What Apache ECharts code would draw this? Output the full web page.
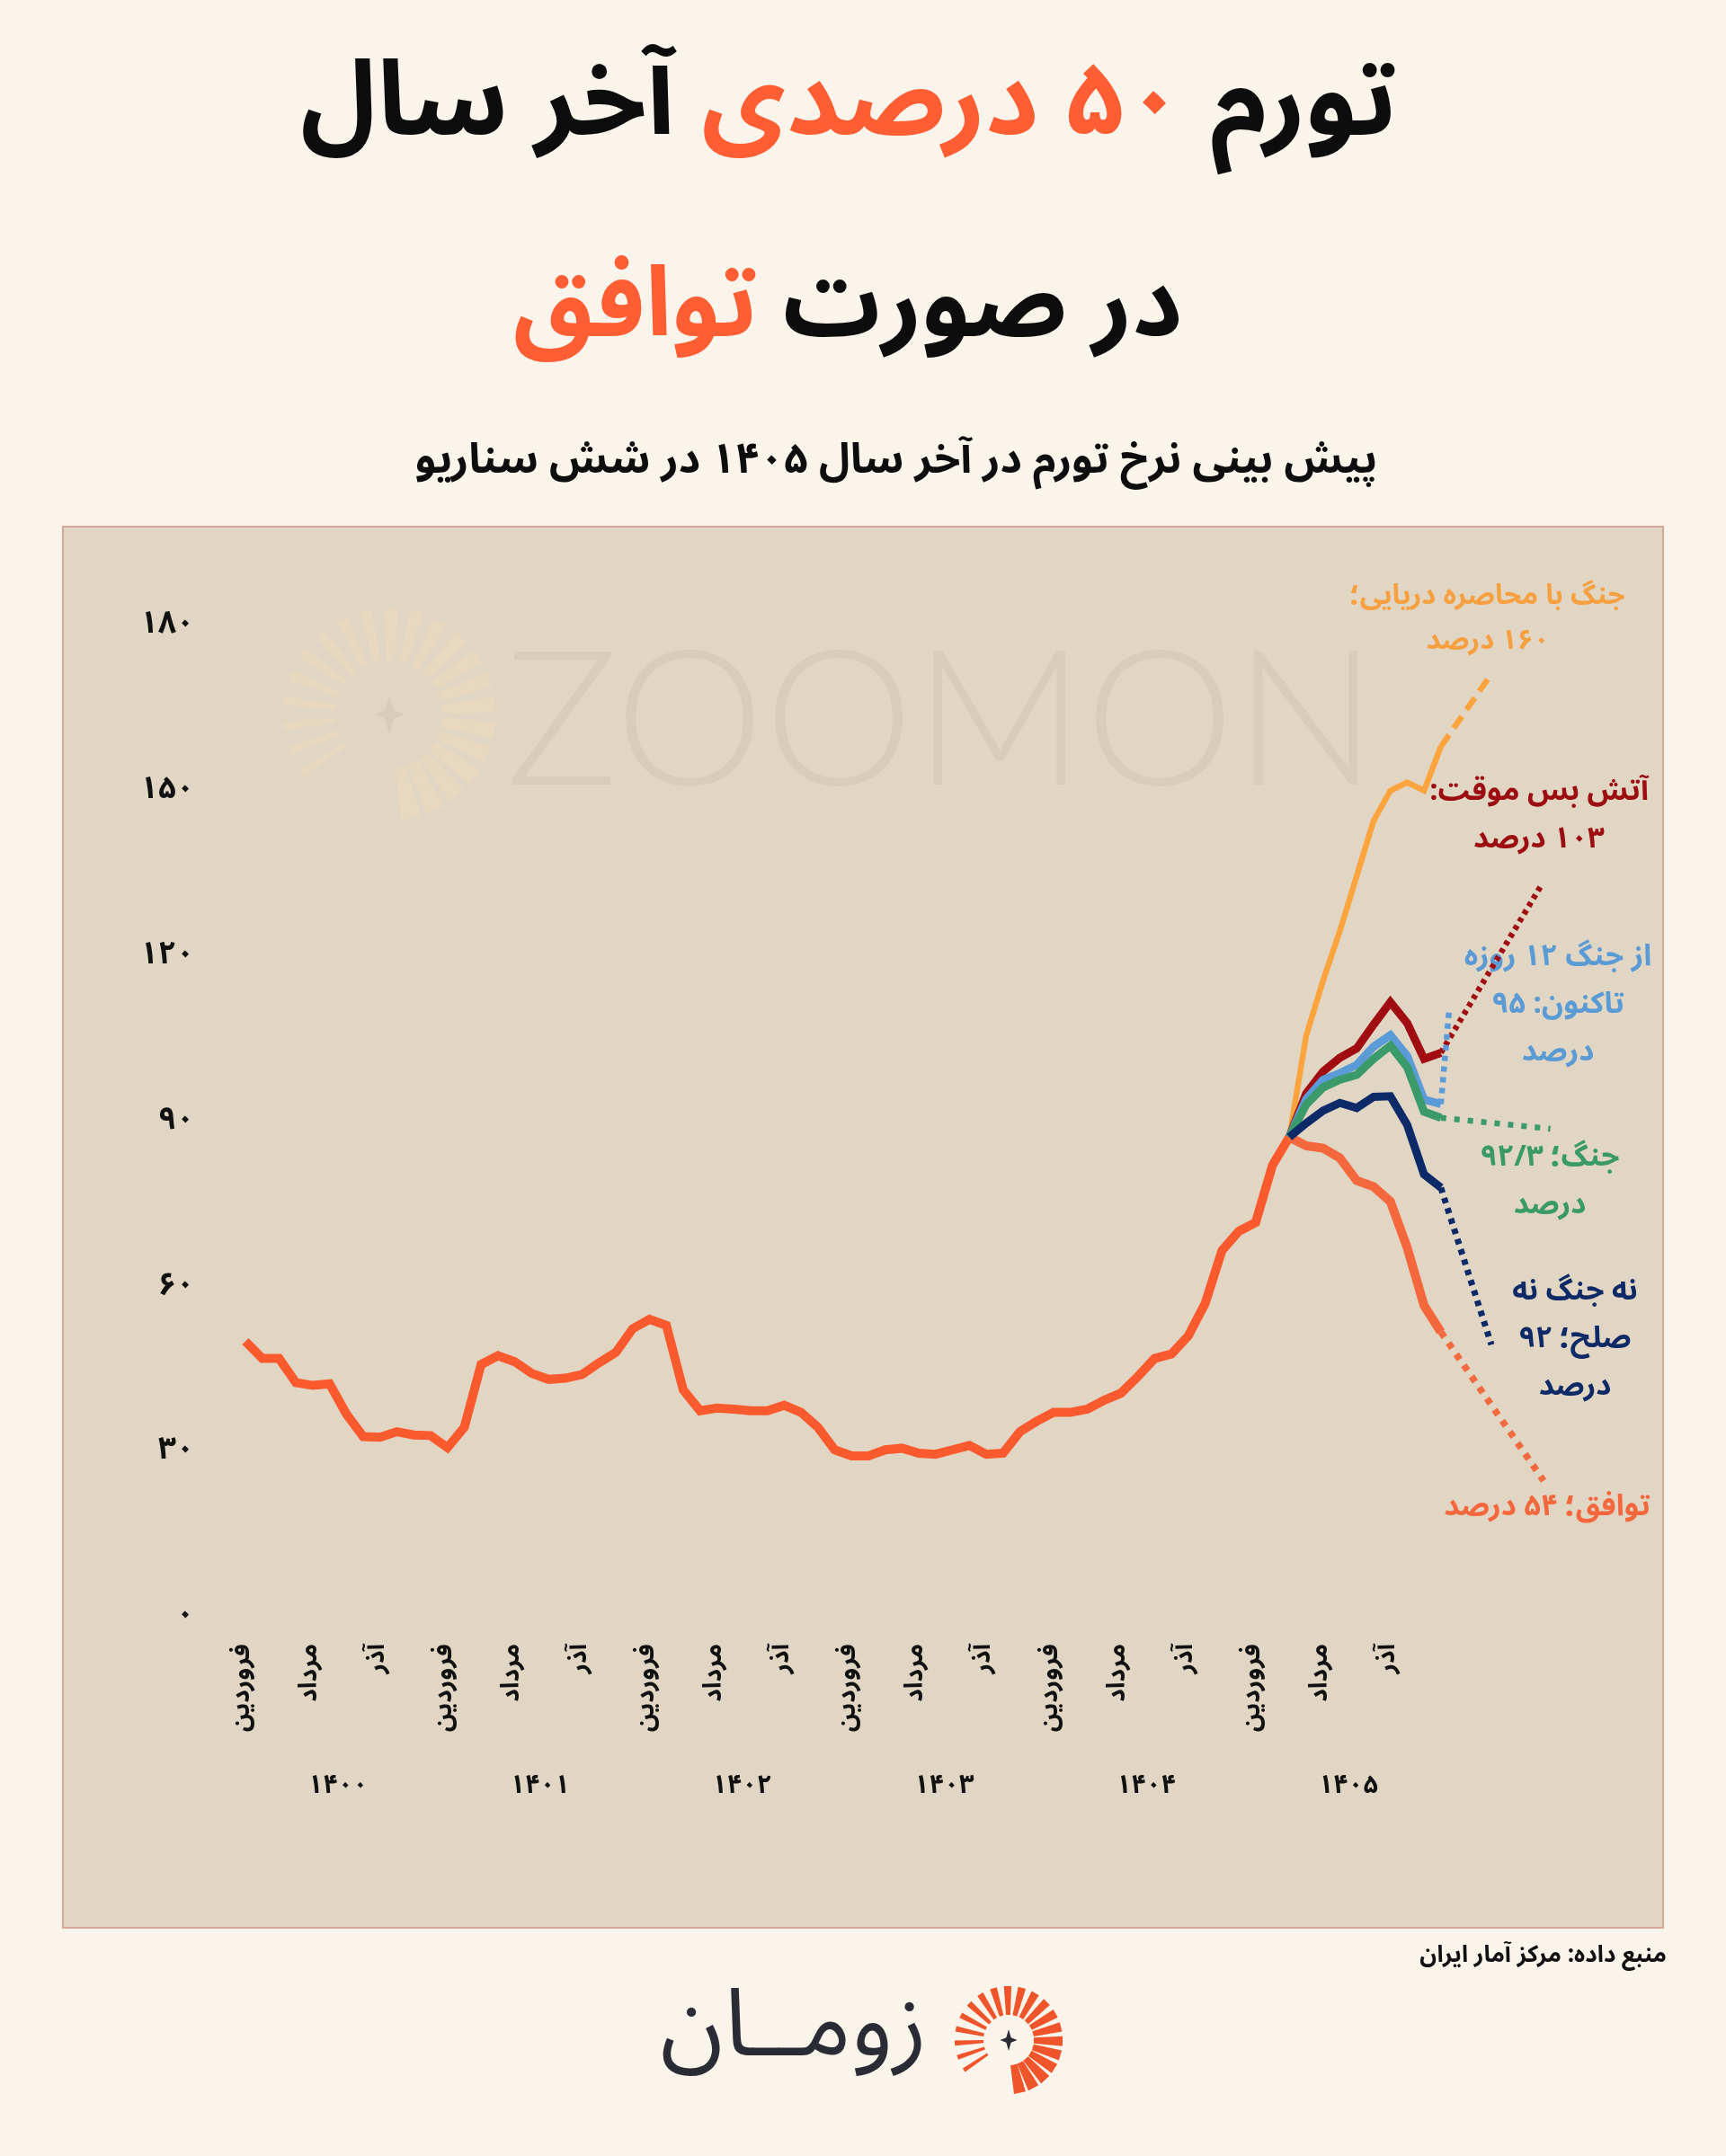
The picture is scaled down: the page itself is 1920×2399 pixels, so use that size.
<!DOCTYPE html>
<html><head><meta charset="utf-8">
<script src="https://cdn.jsdelivr.net/npm/echarts@6/dist/echarts.min.js"></script>
<style>html,body{margin:0;padding:0;background:#fbf4ea;}#c{width:1920px;height:2399px;}</style>
</head><body><div id="c"></div>
<script>
// ---------- data ----------
const monthNames = ['فروردین', 'مرداد', 'آذر'];
const monthTickValues = [0,4,8,12,16,20,24,28,32,36,40,44,48,52,56,60,64,68];
const yearLabels = ['۱۴۰۰', '۱۴۰۱', '۱۴۰۲', '۱۴۰۳', '۱۴۰۴', '۱۴۰۵'];
const yearTickValues = [5.5, 17.5, 29.5, 41.5, 53.5, 65.5];
const yTickLabels = ['۰', '۳۰', '۶۰', '۹۰', '۱۲۰', '۱۵۰', '۱۸۰'];

// monthly inflation, Farvardin 1400 (index 0) .. Khordad 1405 (index 62)
const actual = [50.5, 47.4, 47.4, 43.0, 42.5, 42.8, 37.3, 33.2, 33.1, 34.1, 33.5, 33.4,
  31.2, 34.9, 46.3, 47.9, 46.8, 44.7, 43.6, 43.8, 44.5, 46.6, 48.5, 52.8,
  54.5, 53.4, 41.7, 37.9, 38.4, 38.2, 37.9, 37.9, 38.9, 37.6, 34.9, 30.8,
  29.7, 29.7, 30.8, 31.1, 30.2, 30.0, 30.8, 31.6, 30.0, 30.2, 34.1, 36.0,
  37.6, 37.6, 38.2, 39.8, 41.1, 44.1, 47.4, 48.2, 51.5, 57.4, 67.0, 70.5,
  72.1, 82.5, 87.6];
const scenarioStart = 62;
// scenarios, index 62 .. 71
const agreement   = [87.6, 86.0, 85.6, 83.8, 79.7, 78.6, 75.9, 67.5, 57.0, 52.2];
const noWarNoPeace= [87.6, 90.1, 92.4, 93.8, 92.9, 94.9, 95.0, 89.8, 80.8, 78.4];
const war         = [87.6, 93.5, 96.6, 98.0, 98.9, 101.8, 104.2, 100.3, 92.2, 91.1];
const since12Day  = [87.6, 94.5, 98.0, 99.2, 100.7, 104.0, 106.1, 102.3, 94.4, 93.6];
const ceasefire   = [87.6, 95.5, 99.5, 102.0, 103.7, 108.0, 112.1, 108.3, 101.8, 102.9];
const navalSiege  = [87.6, 106, 116, 125, 135, 145, 150.5, 152, 150.5, 158.5];
// projected end points [monthIndex, value]
const agreementEnd    = [77.1, 25.2];
const noWarNoPeaceEnd = [74.0, 49.9];
const warEnd          = [77.5, 89.1];
const since12DayEnd   = [71.5, 111.0];
const ceasefireEnd    = [77.0, 133.5];
const navalSiegeEnd   = [74.0, 171.7];

// ---------- helpers ----------
const RLM = '\u200F';
const fa = s => s.split('\n').map(l => RLM + l + RLM).join('\n');
const FA = "'Noto Sans Arabic','Vazirmatn','DejaVu Sans',sans-serif";
const toPairs = (arr, start) => arr.map((v, i) => [start + i, v]);
const lastPair = (arr, start) => [start + arr.length - 1, arr[arr.length - 1]];

function solid(name, data, color, width, z) {
  return { name, type: 'line', data, symbol: 'none', z, animation: false,
    lineStyle: { color, width, cap: 'butt', join: 'miter' } };
}
function ext(name, arr, end, color, width, dash, z) {
  return { name, type: 'line', data: [lastPair(arr, scenarioStart), end], symbol: 'none', z, animation: false,
    lineStyle: { color, width, type: dash, cap: 'butt' } };
}

function sun(cx, cy, r1, r2, n, a0, a1, w0, w1, color, star, starSize, z) {
  const els = [];
  for (let i = 0; i < n; i++) {
    const t = i / (n - 1);
    const a = (a0 + (a1 - a0) * t) * Math.PI / 180;
    const w = w0 + (w1 - w0) * t;
    const ux = Math.cos(a), uy = -Math.sin(a);
    const px = -uy, py = ux;
    const hi = w * 0.35, ho = w * 0.6;
    els.push({ type: 'polygon', z, silent: true, shape: { points: [
      [cx + ux * r1 + px * hi, cy + uy * r1 + py * hi],
      [cx + ux * r2 + px * ho, cy + uy * r2 + py * ho],
      [cx + ux * r2 - px * ho, cy + uy * r2 - py * ho],
      [cx + ux * r1 - px * hi, cy + uy * r1 - py * hi]] }, style: { fill: color } });
  }
  const s = starSize, k = s * 0.22;
  els.push({ type: 'polygon', z, silent: true, shape: { points: [
    [cx, cy - s], [cx + k, cy - k], [cx + s * 0.8, cy], [cx + k, cy + k],
    [cx, cy + s], [cx - k, cy + k], [cx - s * 0.8, cy], [cx - k, cy - k]] }, style: { fill: star } });
  return els;
}

function txt(text, x, y, size, color, align, extra) {
  return Object.assign({ type: 'text', silent: true, z: 5, style: {
    text, x, y, font: 'bold ' + size + 'px ' + FA, fill: color,
    align: align || 'center', textAlign: align || 'center', verticalAlign: 'middle', textVerticalAlign: 'middle',
    lineHeight: Math.round(size * 1.6) } }, extra || {});
}

const chart = echarts.init(document.getElementById('c'), null, { renderer: 'canvas' });

const graphics = [
  { type: 'rect', z: -10, silent: true, shape: { x: 70, y: 586, width: 1780, height: 1559 },
    style: { fill: '#e1d6c4', stroke: '#d6a698', lineWidth: 2 } },
  { type: 'text', z: -5, silent: true, style: { text: 'ZOOMON', x: 1047, y: 805,
    font: '300 210px Lato, "Open Sans", sans-serif', fill: '#d8cdbb', align: 'center', textAlign: 'center',
    verticalAlign: 'middle', textVerticalAlign: 'middle' } },
  ...sun(433, 795, 60, 118, 22, -78, 214, 18, 7, '#e8d8bf', '#d9cdba', 22, -5),
  // titles
  { type: 'text', silent: true, z: 5, style: {
    text: '{k|' + fa('آخر سال') + '}{k| }{o|' + fa('۵۰ درصدی') + '}{k| }{k|' + fa('تورم') + '}',
    x: 944, y: 132, align: 'center', textAlign: 'center', verticalAlign: 'middle', textVerticalAlign: 'middle',
    rich: { k: { fill: '#0d0d0d', font: 'bold 115px ' + FA }, o: { fill: '#ff5d34', font: 'bold 115px ' + FA } } } },
  { type: 'text', silent: true, z: 5, style: {
    text: '{o|' + fa('توافق') + '}{k| }{k|' + fa('در صورت') + '}',
    x: 943, y: 357, align: 'center', textAlign: 'center', verticalAlign: 'middle', textVerticalAlign: 'middle',
    rich: { k: { fill: '#0d0d0d', font: 'bold 108px ' + FA }, o: { fill: '#ff5d34', font: 'bold 108px ' + FA } } } },
  txt(fa('پیش بینی نرخ تورم در آخر سال ۱۴۰۵ در شش سناریو'), 997, 519, 47, '#0d0d0d'),
  // scenario labels
  txt(fa('جنگ با محاصره دریایی؛\n۱۶۰ درصد'), 1655, 692, 31, '#f6a042'),
  txt(fa('آتش بس موقت:\n۱۰۳ درصد'), 1712, 912, 33, '#9b0d10'),
  txt(fa('از جنگ ۱۲ روزه\nتاکنون: ۹۵\nدرصد'), 1733, 1122, 33, '#5b9bd5'),
  txt(fa('جنگ؛ ۹۲/۳\nدرصد'), 1724, 1319, 33, '#3a9a66'),
  txt(fa('نه جنگ نه\nصلح؛ ۹۲\nدرصد'), 1752, 1494, 33, '#0e2a66'),
  txt(fa('توافق؛ ۵۴ درصد'), 1721, 1681, 33, '#f5673d'),
  // source
  txt(fa('منبع داده: مرکز آمار ایران'), 1854, 2179, 26, '#111111', 'right'),
  // logo
  { type: 'text', silent: true, z: 5, style: { text: fa('زومــان'), x: 883, y: 2270,
    font: 'normal 104px ' + FA, fill: '#2a2c35', align: 'center', textAlign: 'center',
    verticalAlign: 'middle', textVerticalAlign: 'middle' } },
  ...sun(1122, 2270, 28, 60, 20, -78, 214, 11, 4, '#f0542a', '#2a2c35', 12, 5)
];

chart.setOption({
  backgroundColor: '#fbf4ea',
  animation: false,
  grid: { left: 273, right: 148.6, top: 699, bottom: 597, containLabel: false },
  xAxis: [
    { type: 'value', min: 0, max: 80, position: 'bottom',
      axisLine: { show: false }, axisTick: { show: false }, splitLine: { show: false },
      axisLabel: { customValues: monthTickValues, rotate: 90, margin: 27,
        fontSize: 28, fontWeight: 'bold', fontFamily: FA, color: '#111',
        formatter: v => fa(monthNames[(Math.round(v) % 12) / 4]) } },
    { type: 'value', min: 0, max: 80, position: 'bottom',
      axisLine: { show: false }, axisTick: { show: false }, splitLine: { show: false },
      axisLabel: { customValues: yearTickValues, margin: 174,
        fontSize: 29, fontWeight: 'bold', fontFamily: FA, color: '#111',
        formatter: v => yearLabels[yearTickValues.indexOf(v)] } }
  ],
  yAxis: { type: 'value', min: 0, max: 180, interval: 30,
    axisLine: { show: false }, axisTick: { show: false }, splitLine: { show: false },
    axisLabel: { margin: 57, fontSize: 35, fontWeight: 'bold', fontFamily: FA, color: '#111',
      formatter: v => yTickLabels[Math.round(v / 30)] } },
  graphic: { elements: graphics },
  series: [
    solid('actual', toPairs(actual, 0), '#fa5a2e', 10, 10),
    solid('agreement', toPairs(agreement, scenarioStart), '#f5673d', 10, 10),
    ext('agreementExt', agreement, agreementEnd, '#f26a40', 7.5, [7, 8], 10),
    solid('naval', toPairs(navalSiege, scenarioStart), '#fda43f', 6.5, 11),
    ext('navalExt', navalSiege, navalSiegeEnd, '#fda43f', 6.5, [16, 9], 11),
    solid('ceasefire', toPairs(ceasefire, scenarioStart), '#a00c0f', 9, 12),
    ext('ceasefireExt', ceasefire, ceasefireEnd, '#a00c0f', 6.5, [5, 5], 12),
    solid('since12', toPairs(since12Day, scenarioStart), '#5a9bd8', 9, 13),
    ext('since12Ext', since12Day, since12DayEnd, '#5a9bd8', 6.5, [6, 6], 13),
    solid('war', toPairs(war, scenarioStart), '#3b9a6a', 9, 14),
    ext('warExt', war, warEnd, '#3b9a6a', 6.5, [6, 9], 14),
    solid('nwnp', toPairs(noWarNoPeace, scenarioStart), '#0c2a68', 9, 15),
    ext('nwnpExt', noWarNoPeace, noWarNoPeaceEnd, '#0c2a68', 7, [6, 6], 15)
  ]
});
</script></body></html>
